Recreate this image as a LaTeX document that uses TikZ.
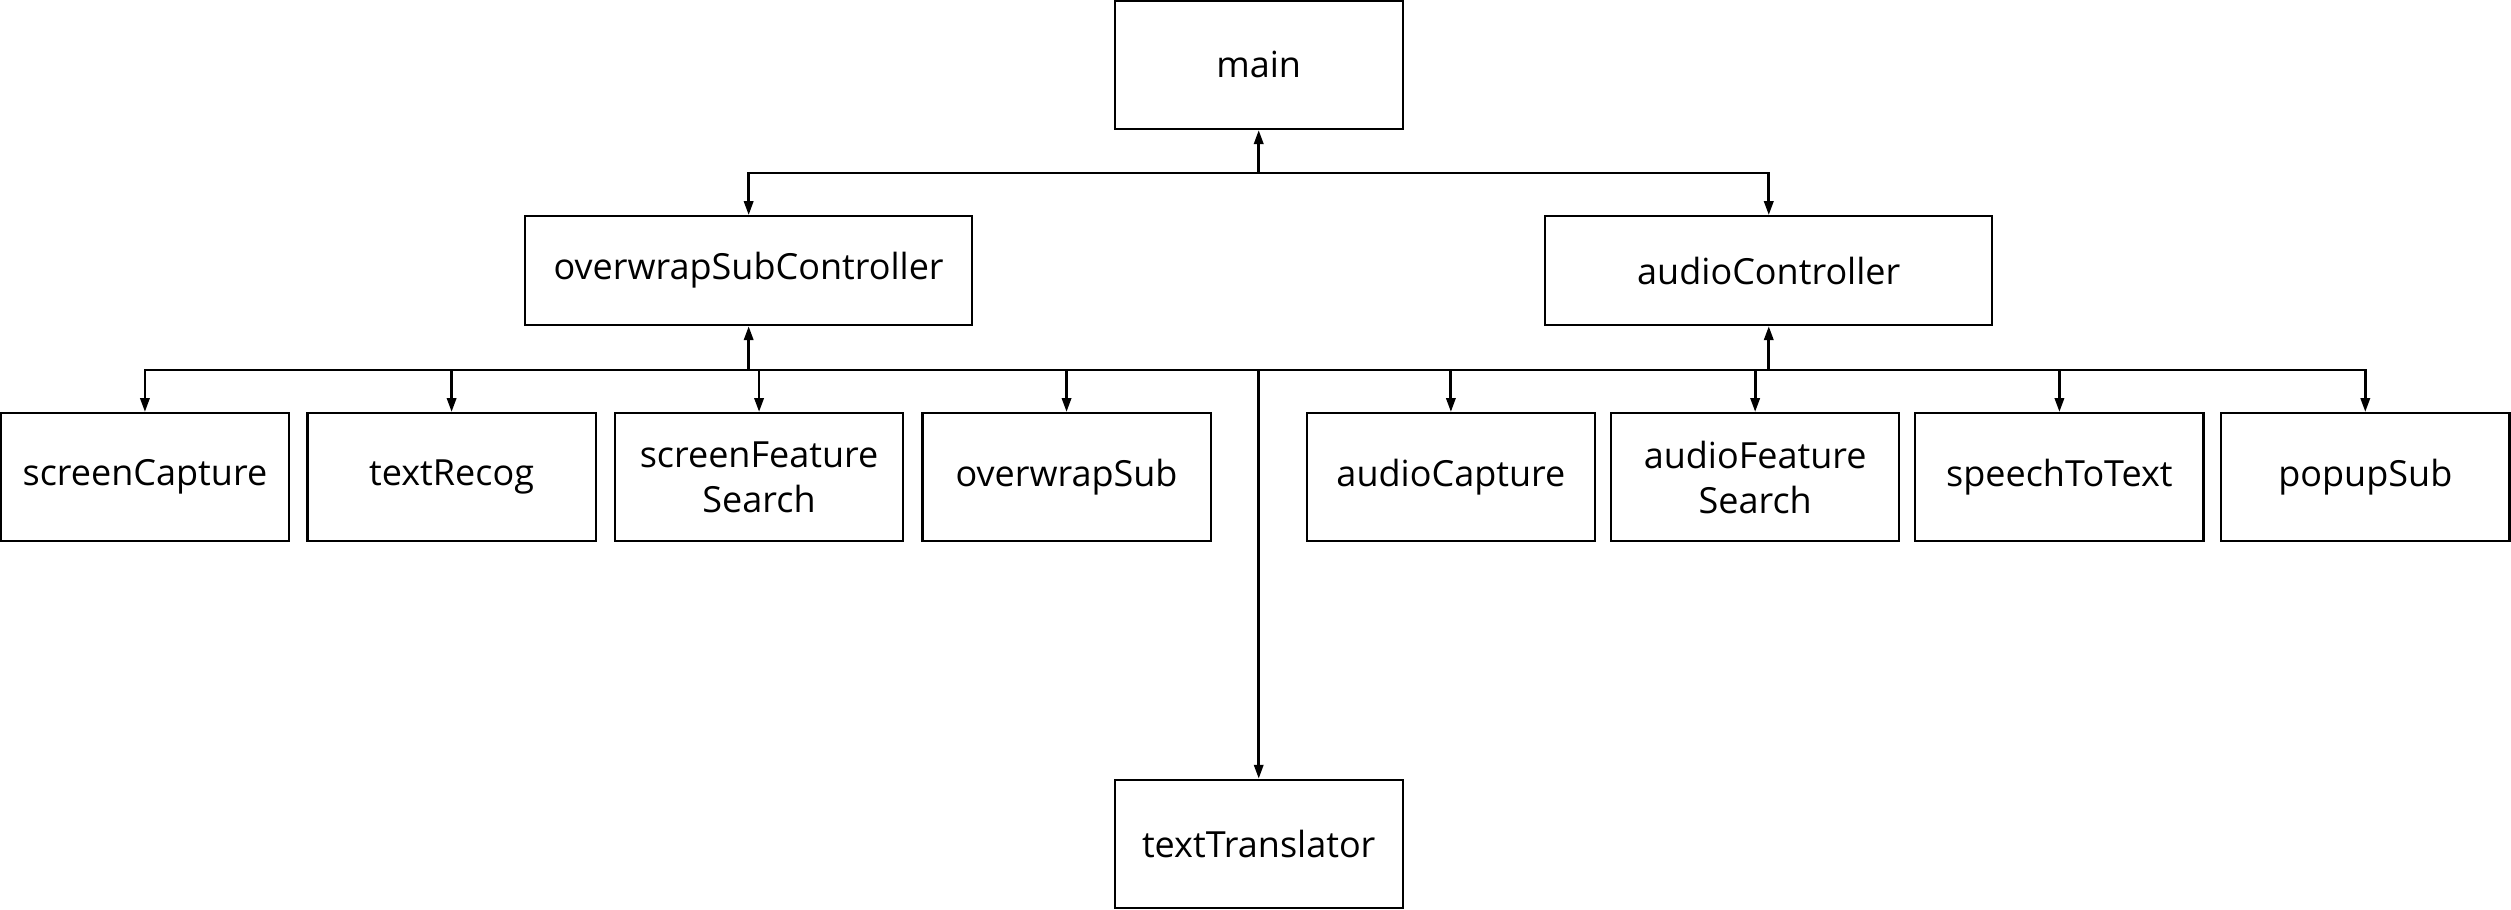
\documentclass[tikz,border=0pt]{standalone}
\usepackage{fontspec}
\setmainfont{Open Sans}
\usetikzlibrary{arrows.meta}
\tikzset{
  box/.style={draw, line width=1.1pt, inner sep=0pt, minimum width=144.1pt, minimum height=64.1pt, align=center, font=\fontsize{18}{22.4}\selectfont},
  ctrl/.style={box, minimum width=223.4pt, minimum height=54.4pt},
  arr/.style={line width=1.4pt, -{Triangle[length=7pt,width=4.6pt]}}
}
\begin{document}
\begin{tikzpicture}[x=0.8007pt, y=-0.8007pt]
\useasboundingbox (0,0) rectangle (1568,568);
\node[box] (main) at (786,40.5) {main};
\node[ctrl] (osc) at (467.5,169) {overwrapSubController};
\node[ctrl] (ac) at (1104.5,169) {audioController};
\node[box] (sc) at (90.5,298) {screenCapture};
\node[box] (tr) at (282,298) {textRecog};
\node[box] (sfs) at (474,298) {screenFeature\\Search};
\node[box] (os) at (666,298) {overwrapSub};
\node[box] (acap) at (906,298) {audioCapture};
\node[box] (afs) at (1096,298) {audioFeature\\Search};
\node[box] (stt) at (1286,298) {speechToText};
\node[box] (ps) at (1477,298) {popupSub};
\node[box] (tt) at (786,527) {textTranslator};
\coordinate (j1) at (786,108);
\coordinate (j2) at (786,231);
\draw[arr] (j1) -- (main.south);
\draw[arr] (j1) -| (osc.north);
\draw[arr] (j1) -| (ac.north);
\draw[arr] (j2) -| (osc.south);
\draw[arr] (j2) -| (ac.south);
\draw[arr] (j2) -| (sc.north);
\draw[arr] (j2) -| (tr.north);
\draw[arr] (j2) -| (sfs.north);
\draw[arr] (j2) -| (os.north);
\draw[arr] (j2) -| (acap.north);
\draw[arr] (j2) -| (afs.north);
\draw[arr] (j2) -| (stt.north);
\draw[arr] (j2) -| (ps.north);
\draw[arr] (j2) -- (tt.north);
\end{tikzpicture}
\end{document}
